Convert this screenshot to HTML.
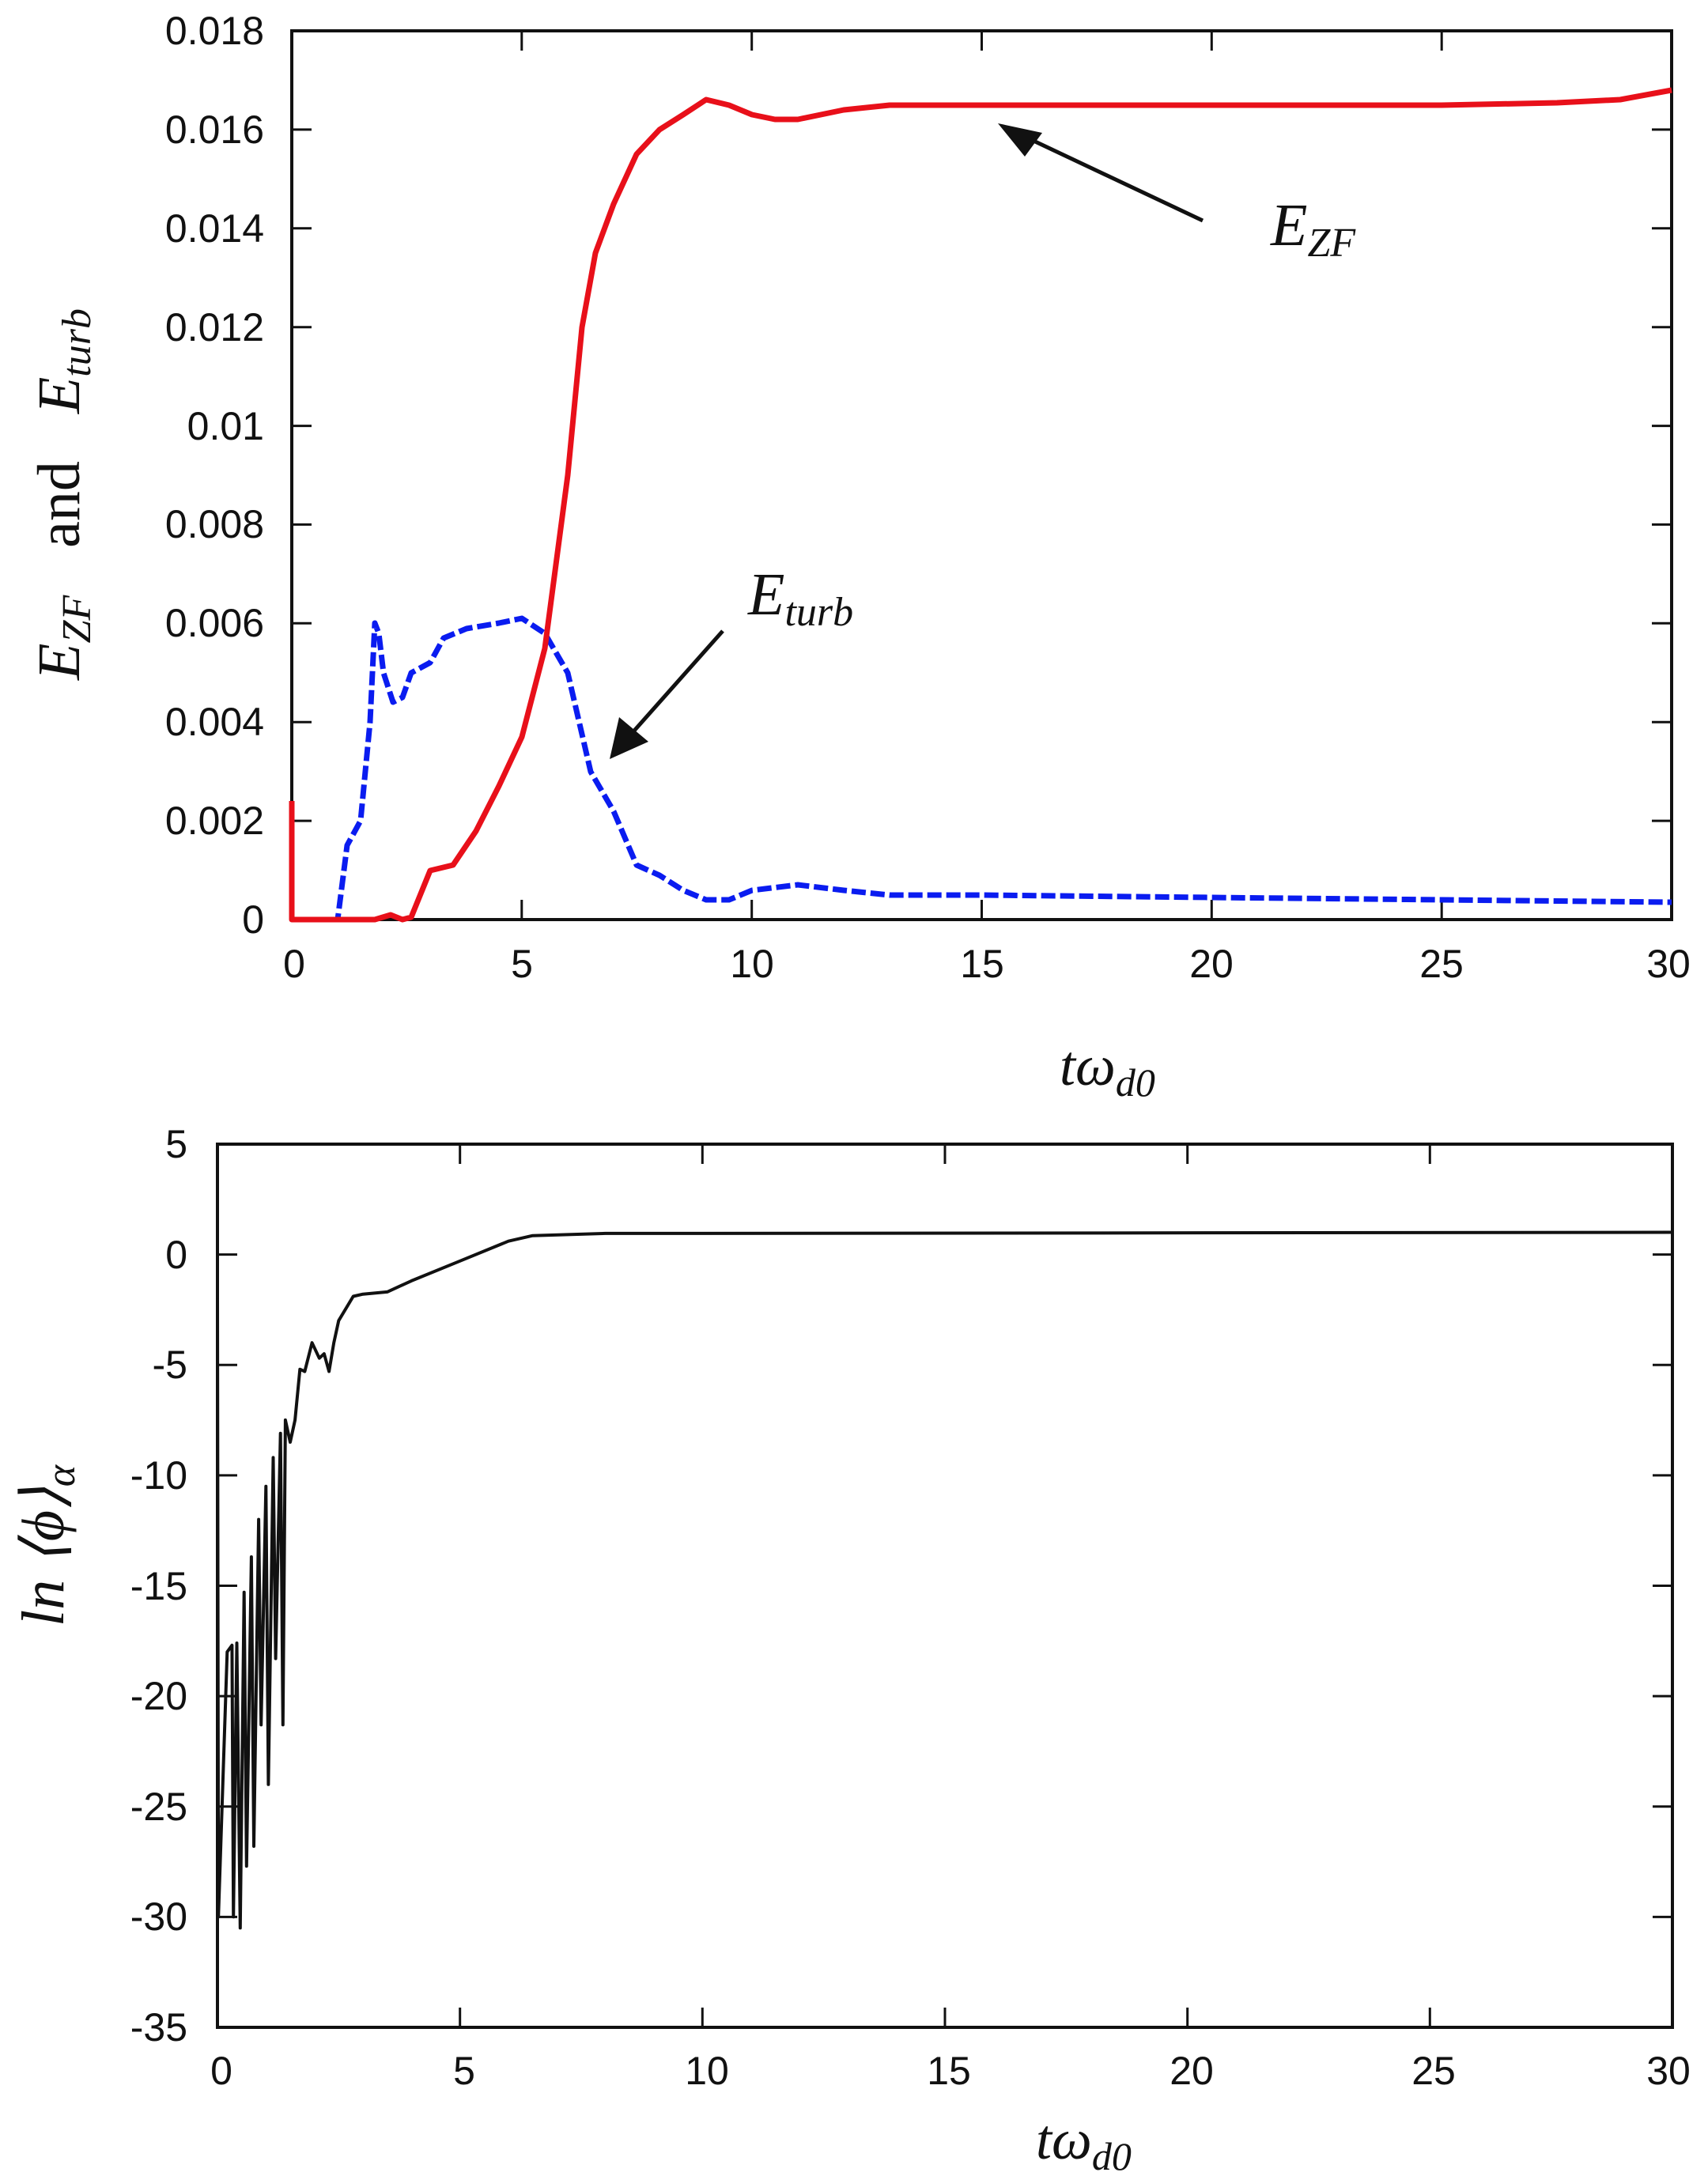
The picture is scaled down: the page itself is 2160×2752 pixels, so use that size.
<!DOCTYPE html>
<html><head><meta charset="utf-8"><style>
html,body{margin:0;padding:0;background:#fff;}
svg{display:block;}
text{font-family:"Liberation Sans",sans-serif;fill:#111;}
.m{font-family:"Liberation Serif",serif;font-style:italic;}
</style></head><body>
<svg width="2160" height="2752" viewBox="0 0 2160 2752" xmlns="http://www.w3.org/2000/svg">
<!-- TOP PLOT -->
<g transform="translate(369,1163)">
<rect x="0" y="-1124" width="1745" height="1124" fill="none" stroke="#111" stroke-width="4"/>
<g stroke="#111" stroke-width="3">
<path d="M0,-124.9h25M1745,-124.9h-25 M0,-249.8h25M1745,-249.8h-25 M0,-374.7h25M1745,-374.7h-25 M0,-499.6h25M1745,-499.6h-25 M0,-624.4h25M1745,-624.4h-25 M0,-749.3h25M1745,-749.3h-25 M0,-874.2h25M1745,-874.2h-25 M0,-999.1h25M1745,-999.1h-25"/>
<path d="M290.8,0v-25M290.8,-1124v25 M581.7,0v-25M581.7,-1124v25 M872.5,0v-25M872.5,-1124v25 M1163.3,0v-25M1163.3,-1124v25 M1454.2,0v-25M1454.2,-1124v25"/>
</g>
</g>
<g font-size="50" text-anchor="end">
<text x="334" y="1180">0</text><text x="334" y="1055">0.002</text><text x="334" y="930">0.004</text><text x="334" y="805">0.006</text><text x="334" y="680">0.008</text><text x="334" y="556">0.01</text><text x="334" y="431">0.012</text><text x="334" y="306">0.014</text><text x="334" y="181">0.016</text><text x="334" y="56">0.018</text>
</g>
<g font-size="50" text-anchor="middle">
<text x="372" y="1236">0</text><text x="660" y="1236">5</text><text x="951" y="1236">10</text><text x="1242" y="1236">15</text><text x="1532" y="1236">20</text><text x="1823" y="1236">25</text><text x="2110" y="1236">30</text>
</g>
<!-- data top -->
<g transform="translate(369,1163)" fill="none" stroke-linejoin="round">
<path stroke="#0a1cf0" stroke-width="7" stroke-dasharray="18,6" d="M0,0 L58,0 L70,-94 L87,-125 L99,-250 L105,-375 L110,-362 L116,-312 L128,-275 L140,-281 L151,-312 L175,-325 L192,-356 L221,-368 L262,-375 L291,-381 L320,-362 L349,-312 L378,-187 L407,-137 L436,-69 L465,-56 L495,-37 L524,-25 L553,-25 L582,-37 L640,-44 L698,-37 L756,-31 L872,-31 L1163,-28 L1454,-25 L1745,-22"/>
<path stroke="#e8101a" stroke-width="7" d="M0,-150 L0,0 L105,0 L125,-6 L140,0 L151,-3 L175,-62 L204,-69 L233,-112 L262,-169 L291,-231 L320,-343 L349,-562 L367,-749 L384,-843 L407,-905 L436,-968 L465,-999 L495,-1018 L524,-1037 L553,-1030 L582,-1018 L611,-1012 L640,-1012 L698,-1024 L756,-1030 L872,-1030 L1163,-1030 L1454,-1030 L1600,-1033 L1680,-1037 L1745,-1049"/>
</g>
<!-- annotations top -->
<g stroke="#111" stroke-width="5" fill="#111">
<line x1="1521" y1="279" x2="1290" y2="170"/>
<polygon points="1262,156 1318,168 1296,198" stroke="none"/>
<line x1="914" y1="798" x2="795" y2="932"/>
<polygon points="771,960 783,907 820,938" stroke="none"/>
</g>
<text class="m" x="1607" y="310" font-size="76">E<tspan font-size="52" dy="14">ZF</tspan></text>
<text class="m" x="946" y="777" font-size="76">E<tspan font-size="52" dy="14">turb</tspan></text>
<text class="m" x="1340" y="1372" font-size="72">tω<tspan font-size="50" dy="14">d0</tspan></text>
<g transform="translate(100,625) rotate(-90)"><text class="m" x="0" y="0" font-size="76" text-anchor="middle">E<tspan font-size="52" dy="14">ZF</tspan><tspan dy="-14" font-style="normal" dx="60">and</tspan><tspan dx="60">E</tspan><tspan font-size="52" dy="14">turb</tspan></text></g>

<!-- BOTTOM PLOT -->
<g transform="translate(275,2564)">
<rect x="0" y="-1117" width="1840" height="1117" fill="none" stroke="#111" stroke-width="4"/>
<g stroke="#111" stroke-width="3">
<path d="M0,-139.6h25M1840,-139.6h-25 M0,-279.2h25M1840,-279.2h-25 M0,-418.9h25M1840,-418.9h-25 M0,-558.5h25M1840,-558.5h-25 M0,-698.1h25M1840,-698.1h-25 M0,-837.7h25M1840,-837.7h-25 M0,-977.4h25M1840,-977.4h-25"/>
<path d="M306.7,0v-25M306.7,-1117v25 M613.3,0v-25M613.3,-1117v25 M920,0v-25M920,-1117v25 M1226.7,0v-25M1226.7,-1117v25 M1533.3,0v-25M1533.3,-1117v25"/>
</g>
</g>
<g font-size="50" text-anchor="end">
<text x="237" y="2581">-35</text><text x="237" y="2441">-30</text><text x="237" y="2302">-25</text><text x="237" y="2162">-20</text><text x="237" y="2023">-15</text><text x="237" y="1883">-10</text><text x="237" y="1743">-5</text><text x="237" y="1604">0</text><text x="237" y="1464">5</text>
</g>
<g font-size="50" text-anchor="middle">
<text x="280" y="2636">0</text><text x="587" y="2636">5</text><text x="894" y="2636">10</text><text x="1200" y="2636">15</text><text x="1507" y="2636">20</text><text x="1813" y="2636">25</text><text x="2110" y="2636">30</text>
</g>
<g transform="translate(275,2564)" fill="none" stroke="#111" stroke-width="4" stroke-linejoin="round">
<path d="M0,-921.7 L1.2,-139.7 L12.3,-474.8 L18.4,-483.2 L20.2,-139.7 L24.5,-486 L28.8,-125.7 L33.7,-550.2 L36.8,-203.9 L42.9,-595 L46,-229 L52.1,-642.4 L55.2,-382.6 L61.3,-684.3 L64.4,-307.2 L70.5,-720.6 L73.6,-466.4 L79.7,-751.3 L82.8,-382.6 L85.9,-768.1 L92,-740.1 L98.1,-768.1 L104.3,-832.3 L110.4,-829.5 L119.6,-865.8 L128.8,-846.3 L134.9,-851.9 L141.1,-829.5 L147.2,-865.8 L153.3,-893.8 L171.7,-924.5 L184,-927.3 L214.7,-930.1 L245.3,-944.1 L306.7,-969.2 L368,-994.3 L398.6,-1001.3 L490.6,-1004.1 L613.3,-1004.1 L1840,-1005.5"/>
</g>
<text class="m" x="1310" y="2730" font-size="72">tω<tspan font-size="50" dy="14">d0</tspan></text>
<g transform="translate(80,1955) rotate(-90)"><text class="m" x="0" y="0" font-size="76" text-anchor="middle">ln ⟨ϕ⟩<tspan font-size="52" dy="14">α</tspan></text></g>
</svg>
</body></html>
